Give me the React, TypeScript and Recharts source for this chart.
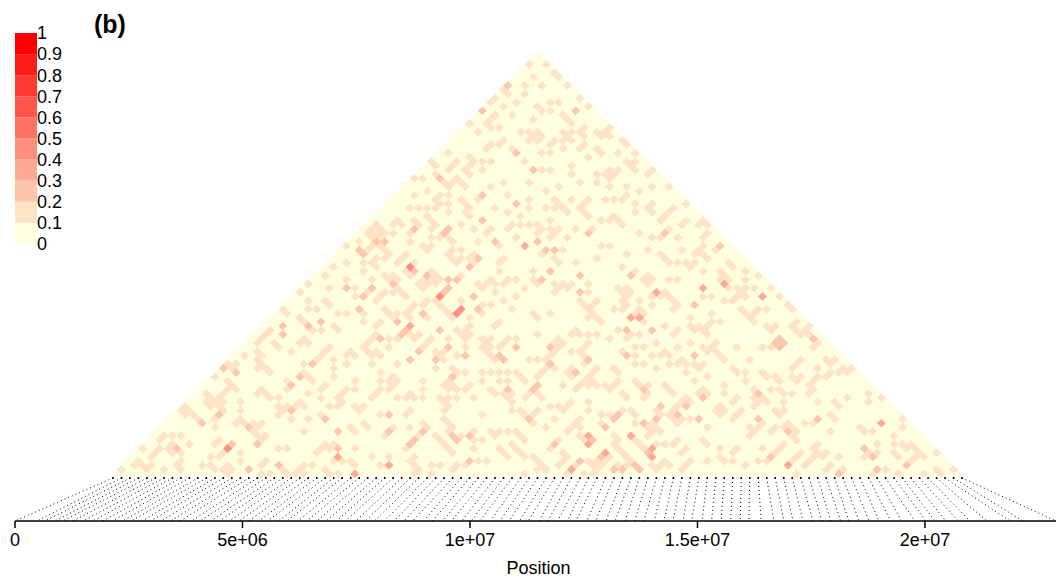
import { BarChart, Bar, XAxis, YAxis, ScatterChart, Scatter, ReferenceLine } from "recharts";

// legend bands, bottom (0) to top (1)
const legendTicks = [0, 0.1, 0.2, 0.3, 0.4, 0.5, 0.6, 0.7, 0.8, 0.9, 1];
const bandColors = ["#FFFFE0", "#FFE3C7", "#FFC6AE", "#FFAA95", "#FF8E7C", "#FF7163", "#FF554B", "#FF3832", "#FF1C19", "#FF0000"];

const positionTicks = [0, 5e6, 1e7, 1.5e7, 2e7];
const positionLabels = ["0", "5e+06", "1e+07", "1.5e+07", "2e+07"];

const snpPositions = [
  0, 0.48, 0.66, 0.88, 1.05, 1.27, 1.49, 1.71,
  1.93, 2.14, 2.37, 2.55, 2.79, 2.98, 3.21, 3.42, 3.63, 3.88,
  4.07, 4.3, 4.49, 4.72, 4.93, 5.14, 5.36, 5.55, 5.79, 5.98,
  6.22, 6.41, 6.63, 6.84, 7.07, 7.26, 7.49, 7.7, 7.9, 8.12,
  8.33, 8.55, 8.74, 8.98, 9.17, 9.4, 9.59, 9.82, 10.03, 10.22,
  10.45, 10.66, 10.86, 11.09, 11.28, 11.52, 11.71, 11.93, 12.14, 12.33,
  12.57, 12.76, 12.99, 13.19, 13.41, 13.62, 13.82, 14.05, 14.26, 14.46,
  14.68, 14.87, 15.1, 15.31, 15.52, 15.73, 15.94, 16.13,
  16.4, 16.68, 16.9, 17.1, 17.32, 17.54, 17.74, 17.93, 18.15, 18.33,
  18.55, 18.77, 18.99, 19.25, 19.49, 19.78, 20.02, 20.22, 20.46, 20.73,
  20.99, 21.36, 21.87, 22.15, 22.88,
];

// non-zero LD cells as [i + j, j - i] of the SNP pair, by colour band
const band01 = [
  [98,98],[102,98],[99,95],[104,96],[105,95],[97,93],[101,93],[107,93],[92,92],[93,91],[97,91],[110,90],[90,90],[89,89],[95,89],[103,89],[105,89],[92,88],[100,88],[101,87],[112,88],[103,87],[94,86],[90,86],[89,85],[88,84],[89,83],[106,86],[107,85],[108,84],[99,85],[84,84],[91,83],[86,82],[96,82],[98,82],[100,82],[101,81],[99,81],[98,80],[100,80],[106,82],[108,82],[107,81],[106,80],[108,80],[111,83],[110,82],[111,81],[114,82],[115,81],[117,83],[116,82],[117,81],[104,80],[103,79],[92,80],[91,79],[89,79],[88,78],[94,78],[106,78],[111,79],[110,78],[114,78],[115,77],[120,80],[121,79],[101,77],[103,77],[79,77],[112,76],[119,77],[123,77],[84,76],[85,75],[84,74],[83,73],[84,72],[81,75],[80,74],[79,73],[75,75],[76,74],[87,75],[89,75],[97,75],[87,73],[108,74],[108,72],[101,73],[103,73],[114,72],[117,73],[116,72],[118,72],[117,71],[119,73],[121,75],[122,74],[123,75],[123,73],[127,73],[126,72],[71,71],[73,71],[76,72],[78,70],[79,69],[81,71],[82,70],[83,69],[89,69],[92,70],[98,70],[105,69],[110,70],[114,70],[117,69],[121,69],[127,69],[131,69],
  [80,70],[71,67],[74,68],[77,67],[76,66],[79,67],[77,65],[79,65],[93,67],[98,66],[86,66],[82,66],[83,65],[84,64],[83,63],[84,62],[70,64],[72,64],[74,64],[76,64],[79,63],[90,64],[93,63],[98,64],[96,62],[82,60],[96,60],[98,60],[85,59],[89,59],[88,58],[94,60],[93,59],[62,60],[61,59],[63,59],[60,58],[62,58],[64,58],[61,57],[63,57],[67,61],[66,60],[68,60],[66,58],[71,61],[72,60],[70,58],[74,62],[75,61],[76,60],[75,59],[77,57],[75,57],[79,57],[80,56],[58,56],[55,55],[61,55],[60,54],[63,55],[64,54],[65,53],[64,52],[70,56],[75,55],[74,54],[73,55],[86,56],[91,55],[95,57],[100,56],[82,54],[80,54],[79,53],[80,52],[81,51],[82,52],[69,53],[68,52],[67,51],[71,51],[85,53],[84,52],[85,51],[92,52],[91,51],[91,49],[55,51],[59,51],[52,50],[62,52],[61,51],[62,50],[59,49],[69,49],[70,48],[50,48],[55,47],[61,47],[64,48],[66,48],[65,47],[67,47],[75,48],[76,47],[73,46],[75,46],[77,46],[72,45],[74,45],[76,45],[73,44],[82,48],[89,47],[88,46],[86,46],[87,45],[90,46],[92,46],[93,47],[95,47],[99,47],[100,46],[46,46],[51,45],[57,45],[60,44],[44,44],[64,44],[63,43],[62,42],[66,44],[67,45],[68,44],[69,43],[57,43],[90,44],[95,43],[97,45],[92,42],[82,42],[46,42],[50,42],[51,41],[74,42],[73,41],[71,41],[70,40],[69,39],[70,38],[87,41],[89,41],[87,39],[46,40],[48,40],[40,40],[41,39],[59,39],[53,39],[55,39],[64,40],[65,39],[66,38],[67,39],[74,38],[94,40],[100,38],[80,38],[84,38],[44,38],[45,37],[59,37],[63,37],[62,36],[84,36],[91,37],[90,36],[76,42],[77,41],[78,40],[79,39],
  [102,68],[124,68],[108,66],[104,66],[105,65],[106,64],[107,63],[102,64],[104,64],[112,66],[111,65],[110,64],[111,63],[112,62],[116,66],[118,66],[121,67],[120,66],[123,65],[123,63],[127,65],[126,64],[127,63],[135,65],[132,64],[131,63],[130,62],[129,61],[103,61],[115,61],[118,62],[117,61],[119,61],[120,60],[100,60],[101,59],[100,58],[103,59],[104,58],[105,59],[103,57],[109,59],[113,59],[124,58],[135,61],[134,60],[139,61],[138,60],[140,60],[131,59],[129,57],[127,57],[133,57],[140,58],[139,57],[107,57],[115,55],[117,55],[142,54],[139,55],[138,54],[137,53],[139,53],[140,52],[106,54],[101,53],[104,52],[105,51],[126,54],[134,54],[121,53],[114,52],[129,53],[130,52],[131,51],[133,51],[135,51],[136,50],[137,51],[109,51],[120,50],[99,48],[145,51],[146,50],[139,48],[149,48],[152,47],[123,48],[143,48],[144,47],[145,46],[143,46],[145,44],[126,47],[125,46],[127,46],[126,45],[131,46],[133,46],[149,46],[112,45],[105,45],[104,44],[104,46],[106,46],[107,45],[108,46],[119,45],[120,44],[121,45],[122,44],[121,43],[112,44],[139,43],[141,43],[155,45],[151,45],[147,45],[148,44],[149,45],[149,43],[147,43],[146,42],[157,43],[129,43],[130,44],[131,43],[132,42],[133,41],[132,40],[127,43],[127,41],[124,42],[120,42],[121,41],[120,40],[118,40],[114,42],[113,41],[112,40],[110,42],[111,41],[144,42],[159,41],[103,39],[99,39],[100,38],[123,39],[124,40],[125,39],[125,37],[113,39],[112,38],[114,38],[115,37],[136,38],[141,39],[141,37],[143,37],[148,40],[149,39],[150,38],[151,39],[152,40],[154,40],[151,37],[130,36],[136,36],[154,36],[156,36],[159,41],[160,40],[161,37],[164,36],[164,34],[161,35],[162,34],[166,26],
  [37,35],[36,34],[35,33],[34,32],[38,32],[39,31],[44,32],[45,33],[46,32],[47,35],[49,35],[53,35],[52,36],[31,29],[34,30],[35,29],[34,28],[35,27],[36,26],[37,25],[34,26],[42,30],[51,31],[50,30],[49,29],[48,28],[29,27],[28,26],[27,27],[45,27],[52,28],[55,27],[52,26],[56,30],[55,29],[57,29],[52,24],[60,32],[24,24],[45,25],[46,24],[47,23],[27,23],[28,22],[29,21],[27,21],[26,20],[25,19],[22,20],[23,19],[24,18],[22,18],[26,18],[23,17],[25,17],[26,16],[17,17],[16,16],[18,16],[17,15],[19,15],[20,14],[41,23],[41,21],[35,21],[34,20],[36,20],[37,19],[39,19],[30,18],[30,16],[46,20],[49,19],[50,22],[49,21],[55,21],[54,20],[53,19],[57,23],[57,21],[61,19],[39,17],[40,16],[41,17],[39,15],[43,17],[44,18],[45,17],[51,17],[54,18],[53,17],[57,17],[58,16],[59,17],[42,14],[46,14],[49,15],[29,13],[30,14],[31,13],[33,13],[34,12],[35,13],[33,11],[34,10],[35,9],[36,10],[24,14],[24,12],[45,11],[56,12],[57,11],[12,10],[11,9],[14,10],[16,10],[14,8],[13,7],[16,6],[11,7],[10,6],[9,5],[14,6],[7,7],[18,8],[25,9],[24,8],[26,6],[25,5],[23,5],[30,6],[30,4],[21,3],[23,3],[24,2],[27,3],[28,2],[26,2],[27,1],[39,7],[41,7],[40,2],[36,4],[35,3],[37,1],[35,1],[41,1],[45,3],[44,2],[43,1],[45,1],[49,7],[48,6],[50,8],[51,7],[52,8],[54,4],[52,4],[57,7],[56,4],[57,3],[47,3],[50,2],[51,1],[53,1],[2,2],[6,4],[5,3],[7,3],[8,2],[9,3],[12,2],[15,3],[16,2],[16,4],
  [61,33],[62,34],[59,31],[60,30],[62,30],[65,31],[65,33],[67,33],[70,34],[71,33],[72,34],[75,33],[74,32],[73,31],[81,35],[82,34],[83,35],[84,34],[83,33],[83,31],[81,29],[76,30],[77,29],[78,28],[79,33],[78,30],[87,33],[88,32],[87,31],[89,33],[89,31],[88,30],[89,29],[90,28],[93,33],[92,32],[91,31],[95,33],[100,34],[105,33],[104,32],[106,32],[105,31],[104,30],[103,29],[108,30],[109,35],[108,34],[110,34],[112,34],[114,34],[117,33],[112,32],[111,31],[110,30],[111,29],[111,27],[98,28],[100,28],[102,28],[104,26],[102,26],[101,25],[100,24],[61,29],[63,29],[61,27],[63,25],[67,27],[76,26],[80,26],[81,25],[83,25],[79,23],[80,22],[81,21],[79,21],[78,22],[83,21],[84,22],[81,19],[85,19],[77,19],[78,18],[79,17],[78,16],[78,14],[79,13],[80,12],[79,19],[87,25],[89,25],[91,25],[93,25],[91,23],[93,23],[87,23],[95,25],[96,24],[97,23],[63,23],[65,23],[66,24],[67,23],[66,22],[65,21],[63,21],[62,20],[61,19],[70,20],[73,23],[73,21],[73,19],[71,19],[69,19],[67,19],[70,16],[69,15],[59,17],[63,15],[59,13],[60,12],[66,12],[64,10],[70,12],[73,13],[74,12],[72,10],[69,7],[61,5],[65,5],[63,3],[71,5],[70,4],[71,1],[71,3],[72,2],[75,3],[77,3],[75,1],[81,3],[83,3],[80,2],[86,4],[88,4],[76,10],[77,9],[78,8],[79,7],[80,6],[79,11],[82,10],[85,9],[87,9],[85,7],[85,11],[87,15],[89,11],[90,10],[91,11],[93,11],[95,11],[96,10],[97,9],[91,7],[92,6],[93,5],[94,8],[95,7],[96,6],[89,21],[90,20],[92,20],[94,20],[93,19],[94,18],[97,19],[98,20],[100,20],[101,19],[106,22],[108,26],[107,25],[108,24],[114,26],[113,25],[112,24],[111,23],[110,22],[109,21],[112,22],[113,23],[114,22],[116,22],[117,21],[118,22],[119,23],[94,15],[103,17],[105,17],[106,16],[107,17],[108,18],[112,18],[112,16],[104,14],[102,12],[107,11],[108,12],[109,13],[110,14],[110,12],[96,16],[97,15],[99,13],[99,15],[100,16],[115,15],[117,15],[115,13],[111,9],[110,10],[118,10],[119,9],[105,9],[103,7],[106,6],[107,5],[106,4],[105,3],[109,3],[107,1],[112,4],[113,3],[114,4],[117,5],[116,4],[115,3],[114,2],[113,1],[111,1],[99,5],[100,4],[101,3],[102,2],[100,2],[97,5],[97,1],
  [119,35],[122,34],[121,33],[124,34],[130,36],[132,34],[133,35],[136,36],[137,35],[138,36],[139,35],[140,36],[140,34],[128,32],[136,32],[133,31],[139,31],[140,30],[141,31],[142,32],[142,30],[143,29],[144,28],[147,31],[153,31],[150,28],[155,31],[166,31],[165,30],[169,32],[154,36],[155,35],[156,36],[160,36],[161,35],[163,35],[123,31],[125,31],[123,29],[120,30],[127,29],[129,29],[130,30],[131,29],[134,28],[133,27],[135,27],[131,27],[123,27],[125,27],[128,26],[137,27],[138,26],[139,27],[135,25],[137,23],[140,24],[118,26],[119,25],[146,26],[147,25],[149,25],[149,23],[153,25],[154,24],[156,24],[157,23],[162,28],[161,27],[160,26],[160,24],[161,23],[162,24],[165,23],[166,24],[164,22],[168,24],[168,28],[169,27],[170,28],[169,25],[171,25],[172,26],[173,25],[174,26],[123,23],[124,22],[126,22],[125,19],[126,20],[120,20],[121,19],[120,16],[122,16],[123,15],[128,16],[127,13],[128,12],[129,15],[129,11],[126,12],[127,11],[126,10],[130,22],[131,21],[132,20],[139,21],[138,20],[140,20],[135,19],[134,18],[133,17],[132,16],[131,15],[132,14],[133,13],[136,18],[134,14],[136,14],[140,12],[144,22],[144,20],[147,19],[146,18],[143,17],[142,16],[143,15],[144,16],[148,16],[147,15],[146,14],[151,21],[153,19],[154,18],[151,19],[151,17],[152,18],[155,21],[157,21],[158,20],[160,20],[158,18],[156,16],[157,15],[158,16],[153,13],[152,12],[151,11],[150,10],[150,12],[156,12],[155,11],[159,13],[158,12],[160,12],[161,11],[160,10],[161,9],[163,13],[165,13],[169,11],[166,18],[165,21],[164,20],[170,18],[171,17],[169,15],[170,14],[173,19],[178,20],[178,18],[181,19],[176,12],[177,11],[123,13],[123,9],[124,8],[125,7],[128,8],[130,8],[133,9],[132,8],[118,8],[119,7],[120,6],[121,5],[122,4],[119,3],[121,3],[127,3],[128,2],[129,3],[130,4],[131,3],[136,4],[135,3],[134,2],[135,7],[134,6],[139,9],[140,8],[140,4],[143,7],[143,5],[144,4],[146,4],[147,7],[146,6],[149,3],[152,4],[153,7],[158,8],[157,7],[156,6],[154,4],[161,5],[160,4],[162,6],[163,3],[165,7],[165,5],[167,5],[171,5],[169,3],[168,2],[178,6],[177,5],
  [166,8],[168,6],[166,6],[164,4],[161,1],[172,2],[179,1],[182,2],[185,1],[191,1],[194,2],[195,1],[198,2],[184,8],[186,8],[187,7],[188,8],[189,7],[190,6],[184,6],[185,5],[188,4],[191,5],[194,6],[186,14],[186,12],[179,11],[184,10],[180,8],[180,6],[189,5],
];
const band02 = [
  [93,93],[87,87],[109,87],[95,77],[99,73],[77,71],[87,67],[95,65],[87,61],[71,59],[79,59],[78,58],[62,56],[64,56],[90,56],[58,54],[59,53],[86,52],[84,50],[71,49],[74,47],[79,47],[81,47],[66,46],[55,45],[61,45],[59,43],[79,45],[78,44],[85,43],[58,40],[86,40],[73,39],[49,37],[67,37],[40,36],[46,36],
  [112,58],[130,58],[100,56],[143,55],[102,54],[104,54],[103,48],[110,47],[122,47],[101,46],[110,44],[137,40],
  [40,34],[47,27],[29,25],[26,26],[44,24],[42,22],[25,15],[21,13],[42,16],[50,14],[32,12],[53,11],[34,8],[15,7],[28,8],[53,7],[39,3],[32,2],
  [63,33],[69,35],[68,34],[72,30],[77,35],[79,31],[83,29],[76,28],[70,28],[92,28],[91,29],[95,31],[103,31],[112,28],[103,27],[80,24],[109,25],[93,21],[99,21],[100,22],[65,15],[98,14],[116,12],[118,14],[65,11],[73,11],[71,9],[70,8],[80,10],[81,9],[84,10],[113,9],[104,8],[84,4],[115,5],[110,4],[118,2],
  [121,35],[127,35],[156,32],[157,33],[158,32],[157,31],[165,32],[121,29],[137,29],[125,21],[119,15],[125,13],[129,17],[128,14],[139,19],[135,17],[133,15],[138,14],[152,20],[152,14],[159,11],[126,6],[123,3],[124,2],[120,2],[155,5],[177,7],[179,5],[180,2],[171,1],[187,3],[166,14],
];
const band03 = [
  [97,55],[70,36],[128,44],[139,45],[144,45],[153,43],[122,38],[124,38],[112,10],[112,8],[65,3],[116,6],[108,2],[127,7],[127,5],[122,10],[159,3],[53,5],[181,13],[57,1],
];
const band04 = [[77,43],[70,50],[81,39],[82,40],[27,7]];

const snpCount = snpPositions.length;
const midDomain = [-23.086, 222.14];
const gapDomain = [-10.19, 113.27];
const positionMax = 22.88e6;

// table for the legend's single stacked bar
const legendRow: Record<string, number | string> = { name: "r2" };
bandColors.forEach((_, i) => (legendRow[`band${i}`] = 0.1));

// every pair of SNPs is a cell; unlisted pairs are 0
const lookup = new Map<string, number>();
[band01, band02, band03, band04].forEach((band, level) => {
  band.forEach(([mid, gap]) => {
    const g = (mid + gap) % 2 === 0 ? gap : gap + 1;
    lookup.set(`${mid}:${g}`, level + 1);
  });
});
const cellsByBand: { mid: number; gap: number }[][] = [[], [], [], [], []];
for (let gap = 1; gap < snpCount; gap++) {
  for (let mid = gap; mid <= 2 * (snpCount - 1) - gap; mid += 2) {
    cellsByBand[lookup.get(`${mid}:${gap}`) ?? 0].push({ mid, gap });
  }
}
const baseMarks = snpPositions.map((_, k) => ({ mid: 2 * k, gap: 0 }));
const axisPoints = snpPositions.map((mb) => ({ pos: mb * 1e6, gap: gapDomain[0] }));
const midForPosition = (mb: number) => midDomain[0] + ((mb * 1e6) / positionMax) * (midDomain[1] - midDomain[0]);

const FONT = "'Liberation Sans', Arial, sans-serif";

const Diamond = (color: string, bleed: number) => (props: any) => {
  const { cx, cy } = props;
  const w = 4.245 + bleed;
  const h = 4.22 + bleed;
  return <polygon points={`${cx - w},${cy} ${cx},${cy - h} ${cx + w},${cy} ${cx},${cy + h}`} fill={color} />;
};

const BaseMark = (props: any) => <rect x={props.cx - 0.75} y={props.cy - 1} width={1.5} height={2} fill="#000" />;

export default function App() {
  return (
    <div style={{ position: "absolute", left: 0, top: 0, width: 1056, height: 583, background: "#fff", overflow: "hidden" }}>
      <ScatterChart width={1056} height={583} margin={{ top: 0, right: 0, bottom: 0, left: 15 }}>
        <XAxis
          xAxisId="pos"
          dataKey="pos"
          type="number"
          domain={[0, positionMax]}
          allowDataOverflow
          ticks={positionTicks}
          tickFormatter={(v: number) => positionLabels[positionTicks.indexOf(v)]}
          height={62}
          interval={0}
          tickSize={7}
          tickMargin={5}
          stroke="#000"
          strokeWidth={1.5}
          tick={{ fill: "#000", fontSize: 18, fontFamily: FONT, strokeWidth: 0 }}
          label={{ value: "Position", position: "insideBottom", offset: 9, dx: 3, fill: "#000", fontSize: 18, fontFamily: FONT }}
        />
        <XAxis xAxisId="mid" dataKey="mid" type="number" domain={midDomain} hide allowDataOverflow height={0} />
        <YAxis yAxisId="gap" dataKey="gap" type="number" domain={gapDomain} hide allowDataOverflow width={0} />
        <Scatter data={axisPoints} xAxisId="pos" yAxisId="gap" isAnimationActive={false} shape={() => <g />} />
        {cellsByBand.map((cells, level) => (
          <Scatter
            key={level}
            data={cells}
            xAxisId="mid"
            yAxisId="gap"
            isAnimationActive={false}
            shape={Diamond(bandColors[level], level === 0 ? 0.3 : 0.25)}
          />
        ))}
        {snpPositions.map((mb, k) => (
          <ReferenceLine
            key={k}
            xAxisId="mid"
            yAxisId="gap"
            segment={[
              { x: 2 * k, y: 0 },
              { x: midForPosition(mb), y: gapDomain[0] },
            ]}
            stroke="#000"
            strokeWidth={1}
            strokeDasharray="1 3"
            ifOverflow="visible"
          />
        ))}
        <Scatter data={baseMarks} xAxisId="mid" yAxisId="gap" isAnimationActive={false} shape={BaseMark} />
      </ScatterChart>

      <div style={{ position: "absolute", left: 0, top: 0 }}>
        <BarChart width={97} height={262} data={[legendRow]} margin={{ top: 33, right: 0, bottom: 18, left: 15 }} barCategoryGap={0}>
          <XAxis dataKey="name" hide height={0} />
          <YAxis
            orientation="right"
            type="number"
            domain={[0, 1]}
            ticks={legendTicks}
            interval={0}
            width={60}
            axisLine={false}
            tickLine={false}
            tickSize={0}
            tickMargin={0}
            tickFormatter={(v: number) => String(v)}
            tick={{ fill: "#000", fontSize: 18, fontFamily: FONT }}
          />
          {bandColors.map((c, i) => (
            <Bar key={i} dataKey={`band${i}`} stackId="legend" fill={c} isAnimationActive={false} />
          ))}
        </BarChart>
      </div>

      <div style={{ position: "absolute", left: 94, top: 10, fontFamily: FONT, fontWeight: "bold", fontSize: 25, lineHeight: "28px", color: "#000" }}>(b)</div>
    </div>
  );
}
